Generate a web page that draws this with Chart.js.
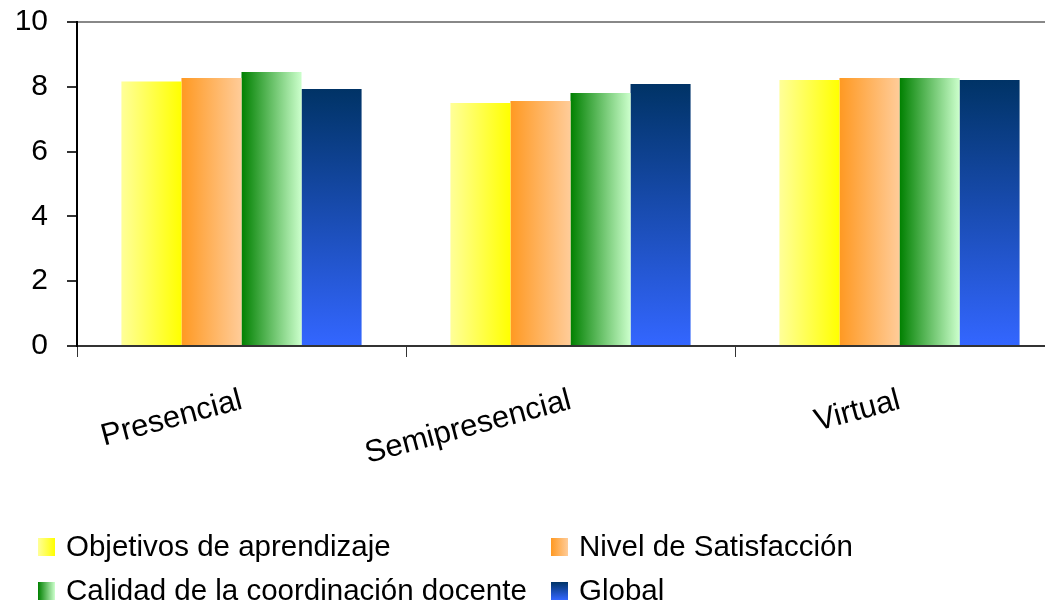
<!DOCTYPE html>
<html>
<head>
<meta charset="utf-8">
<script src="https://cdn.jsdelivr.net/npm/chart.js@4/dist/chart.umd.min.js"></script>
<style>
  html, body { margin: 0; padding: 0; background: #fff; overflow: hidden; }
  #wrap { width: 1045px; height: 606px; overflow: hidden; position: relative; }
  #chart { position: absolute; left: 0; top: 0; }
</style>
</head>
<body>
<div id="wrap"><canvas id="chart" width="1080" height="606"></canvas></div>
<script>
const categories = ['Presencial', 'Semipresencial', 'Virtual'];
const objetivos = [8.16, 7.50, 8.21];
const satisfaccion = [8.27, 7.56, 8.27];
const calidad = [8.46, 7.81, 8.27];
const global = [7.93, 8.09, 8.21];
const seriesNames = ['Objetivos de aprendizaje', 'Nivel de Satisfacción', 'Calidad de la coordinación docente', 'Global'];
const yMin = 0;
const yMax = 10;
const yStep = 2;

const FONT = "'Liberation Sans', Arial, sans-serif";
const FONT_SIZE = 30;

// gradient stops per series, blue one runs top to bottom
const fills = [
    {stops: ['#FFFF99', '#FFFF00'], vertical: false},
    {stops: ['#FF9922', '#FFCC99'], vertical: false},
    {stops: ['#008000', '#CCFFCC'], vertical: false},
    {stops: ['#003366', '#3366FF'], vertical: true}
];

function makeGradient(ctx, fill, x, y, w, h) {
    const g = fill.vertical
        ? ctx.createLinearGradient(0, y, 0, y + h)
        : ctx.createLinearGradient(x, 0, x + w, 0);
    g.addColorStop(0, fill.stops[0]);
    g.addColorStop(1, fill.stops[1]);
    return g;
}

const barGradients = {
    id: 'barGradients',
    beforeDatasetsDraw(chart) {
        const {ctx} = chart;
        chart.data.datasets.forEach((ds, i) => {
            const meta = chart.getDatasetMeta(i);
            meta.data.forEach(bar => {
                const left = bar.x - bar.width / 2;
                bar.options.backgroundColor = makeGradient(ctx, fills[i], left, bar.y, bar.width, bar.base - bar.y);
            });
        });
    }
};

const legendSpots = [[38, 547], [551, 547], [38, 591], [551, 591]];

const boxLegend = {
    id: 'boxLegend',
    afterDraw(chart) {
        const {ctx} = chart;
        ctx.save();
        ctx.font = '29.5px ' + FONT;
        ctx.textBaseline = 'middle';
        ctx.textAlign = 'left';
        chart.data.datasets.forEach((ds, i) => {
            const [x, y] = legendSpots[i];
            ctx.fillStyle = makeGradient(ctx, fills[i], x, y - 9, 17, 18);
            ctx.fillRect(x, y - 9, 17, 18);
            ctx.fillStyle = '#000';
            ctx.fillText(ds.label, x + 28, y + 1);
        });
        ctx.restore();
    }
};

const seriesValues = [objetivos, satisfaccion, calidad, global];

new Chart(document.getElementById('chart'), {
    type: 'bar',
    data: {
        labels: categories,
        datasets: seriesValues.map((vals, i) => ({
            label: seriesNames[i],
            data: vals,
            backgroundColor: () => fills[i].stops[1],
            borderWidth: 0,
            categoryPercentage: 0.73,
            barPercentage: 1
        }))
    },
    options: {
        responsive: false,
        animation: false,
        events: [],
        layout: {padding: {top: 22, right: 16, bottom: 130, left: 0}},
        plugins: {
            legend: {display: false},
            tooltip: {enabled: false}
        },
        scales: {
            x: {
                offset: true,
                afterFit: s => { s.height = 130; s.paddingLeft = 0; s.paddingRight = 0; },
                border: {color: '#333', width: 2},
                grid: {
                    offset: true,
                    drawOnChartArea: false,
                    tickLength: 11,
                    tickColor: '#333'
                },
                ticks: {
                    color: '#000',
                    font: {family: FONT, size: 31},
                    minRotation: 15,
                    maxRotation: 15,
                    padding: 25
                }
            },
            y: {
                min: yMin,
                max: yMax,
                afterFit: s => { s.width = 77; s.paddingTop = 0; s.paddingBottom = 0; },
                border: {color: '#000', width: 2},
                grid: {
                    color: ctx => ctx.tick && ctx.tick.value === yMax ? '#888' : 'transparent',
                    lineWidth: 2,
                    tickLength: 10,
                    tickColor: '#333'
                },
                ticks: {
                    stepSize: yStep,
                    color: '#000',
                    font: {family: FONT, size: FONT_SIZE},
                    padding: 19
                }
            }
        }
    },
    plugins: [barGradients, boxLegend]
});
</script>
</body>
</html>
